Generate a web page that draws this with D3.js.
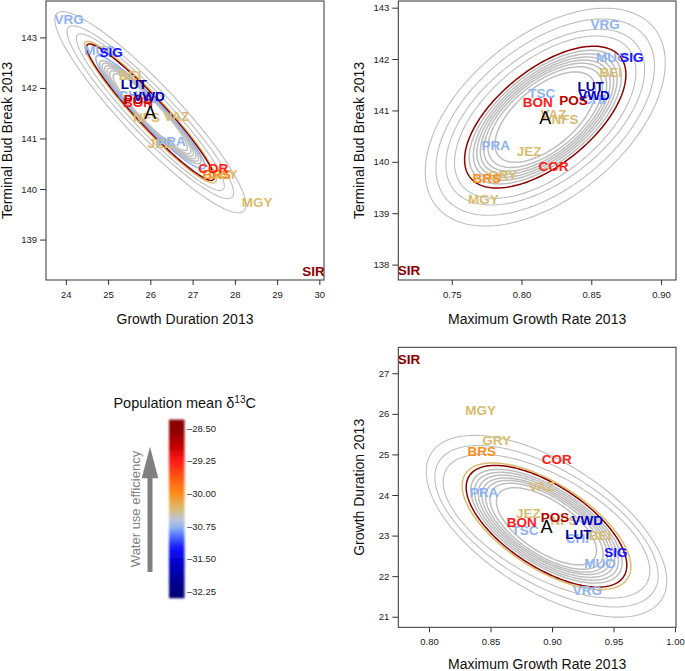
<!DOCTYPE html>
<html><head><meta charset="utf-8">
<script src="https://cdn.jsdelivr.net/npm/d3@7"></script>
<style>
body{margin:0;background:#fff}
svg{display:block;font-family:"Liberation Sans",Arial,Helvetica,sans-serif}
</style>
</head><body>
<svg id="chart" width="685" height="671"></svg>
<script>
// ---------------- DATA ----------------
const populations = ["JEZ","MUO","CHI","TSC","PRA","VRG","GRY","MGY","NFS","VAZ","BEI","BRS","COR","BON","POS","SIR","SIG","VWD","LUT"];
const d13C        = [-30.35,-30.78,-30.78,-30.78,-30.78,-30.78,-30.35,-30.35,-30.35,-30.35,-30.35,-30.0,-29.3,-29.25,-28.85,-28.5,-31.25,-31.6,-32.0];

// Panel 1: Growth Duration (x) vs Terminal Bud Break (y)
const p1GrowthDuration = [26.23,24.81,25.52,25.85,26.50,24.08,27.72,28.53,25.91,26.62,25.52,27.57,27.49,25.71,25.71,29.86,25.07,25.97,25.61];
const p1BudBreak       = [140.91,142.75,141.86,141.80,140.95,143.36,140.29,139.75,141.42,141.44,142.26,140.29,140.42,141.72,141.77,138.38,142.70,141.84,142.07];
// Panel 2: Maximum Growth Rate (x) vs Terminal Bud Break (y)
const p2MaxRate  = [0.8054,0.8647,0.8520,0.8145,0.7815,0.8599,0.7865,0.7727,0.8312,0.8229,0.8640,0.7751,0.8229,0.8116,0.8372,0.7194,0.8790,0.8520,0.8496];
const p2BudBreak = [140.21,142.04,141.22,141.33,140.33,142.68,139.75,139.27,140.83,140.93,141.75,139.68,139.91,141.17,141.20,137.89,142.04,141.29,141.48];
// Panel 3: Maximum Growth Rate (x) vs Growth Duration (y)
const p3MaxRate  = [0.8808,0.9390,0.9206,0.8780,0.8447,0.9287,0.8550,0.8420,0.9098,0.8916,0.9390,0.8428,0.9038,0.8753,0.9024,0.7837,0.9520,0.9287,0.9214];
const p3Duration = [23.56,22.32,22.93,23.13,24.07,21.66,25.36,26.08,23.38,24.22,23.00,25.09,24.88,23.33,23.45,27.35,22.60,23.38,23.04];

// Centroids ("A")
const centroidX = [26.00, 0.8170, 0.8955];
const centroidY = [141.52, 140.87, 23.23];

// Ellipses (half-range in x, half-range in y, correlation, colour)
const p1EllSX  = [2.26,1.97,1.75,1.56,1.51,1.29,1.20,1.14,1.08,1.02,0.96,0.88];
const p1EllSY  = [1.99,1.71,1.55,1.40,1.35,1.12,1.02,0.97,0.92,0.87,0.82,0.76];
const p1EllRho = [-0.92,-0.93,-0.94,-0.95,-0.955,-0.95,-0.94,-0.94,-0.935,-0.93,-0.93,-0.93];
const p1EllCol = ["gray","gray","gray","tan","darkred","lightblue","gray","gray","gray","gray","gray","gray"];

const p2EllSX  = [0.0860,0.0783,0.0712,0.0650,0.0578,0.0545,0.0515,0.0490,0.0465,0.0440,0.0410,0.0360];
const p2EllSY  = [2.12,1.91,1.71,1.58,1.38,1.30,1.23,1.17,1.11,1.05,0.98,0.88];
const p2EllRho = [0.50,0.52,0.54,0.56,0.60,0.60,0.60,0.60,0.60,0.60,0.60,0.60];
const p2EllCol = ["gray","gray","gray","gray","darkred","gray","gray","gray","gray","gray","gray","gray"];

const p3EllSX  = [0.0978,0.0908,0.0840,0.0686,0.0653,0.0615,0.0585,0.0555,0.0525,0.0495,0.0460,0.0407];
const p3EllSY  = [2.24,1.99,1.77,1.56,1.50,1.40,1.33,1.26,1.19,1.13,1.06,0.95];
const p3EllRho = [-0.60,-0.61,-0.62,-0.64,-0.64,-0.64,-0.64,-0.64,-0.64,-0.64,-0.64,-0.64];
const p3EllCol = ["gray","gray","gray","tan","darkred","gray","gray","gray","gray","gray","gray","gray"];

// Axis ticks
const p1XTicks = [24,25,26,27,28,29,30];
const p1YTicks = [139,140,141,142,143];
const p2XTicks = [0.75,0.80,0.85,0.90];
const p2YTicks = [138,139,140,141,142,143];
const p3XTicks = [0.80,0.85,0.90,0.95,1.00];
const p3YTicks = [21,22,23,24,25,26,27];

// Colour bar
const cbTicks  = [-28.50,-29.25,-30.00,-30.75,-31.50,-32.25];
const cbStopV  = [-28.30,-28.50,-28.90,-29.25,-29.60,-30.00,-30.35,-30.60,-30.78,-31.00,-31.25,-31.60,-32.00,-32.40];
const cbStopC  = ["#8B0000","#8B0000","#BE0000","#FF1A1A","#FF5510","#FF8C1A","#D8BC70","#BAC4DA","#8FB2F2","#4A66FF","#1414FF","#0000C8","#000096","#000070"];

// ---------------- DRAWING ----------------
const svg = d3.select("#chart");
const ellColors = {gray:"#BEBEBE", tan:"#D9BC6E", darkred:"#8B0000", lightblue:"#8FB2F2"};
const colorScale = d3.scaleLinear().domain(cbStopV).range(cbStopC).interpolate(d3.interpolateRgb);
const font = '"Liberation Sans",Arial,sans-serif';

const panels = [
  {box:{x0:46,x1:324,y0:1,y1:280}, xd:[23.53,30.11], yd:[138.2,143.72],
   xs:p1GrowthDuration, ys:p1BudBreak, xt:p1XTicks, yt:p1YTicks, xf:d3.format("d"), yf:d3.format("d"),
   esx:p1EllSX, esy:p1EllSY, erho:p1EllRho, ecol:p1EllCol,
   xlab:"Growth Duration 2013", ylab:"Terminal Bud Break 2013", xlabY:324, ylabX:12},
  {box:{x0:398.3,x1:676,y0:1,y1:280}, xd:[0.7117,0.9107], yd:[137.7,143.13],
   xs:p2MaxRate, ys:p2BudBreak, xt:p2XTicks, yt:p2YTicks, xf:d3.format(".2f"), yf:d3.format("d"),
   esx:p2EllSX, esy:p2EllSY, erho:p2EllRho, ecol:p2EllCol,
   xlab:"Maximum Growth Rate 2013", ylab:"Terminal Bud Break 2013", xlabY:324, ylabX:364},
  {box:{x0:398.3,x1:676,y0:347.3,y1:627.3}, xd:[0.775,1.0008], yd:[20.74,27.64],
   xs:p3MaxRate, ys:p3Duration, xt:p3XTicks, yt:p3YTicks, xf:d3.format(".2f"), yf:d3.format("d"),
   esx:p3EllSX, esy:p3EllSY, erho:p3EllRho, ecol:p3EllCol,
   xlab:"Maximum Growth Rate 2013", ylab:"Growth Duration 2013", xlabY:669, ylabX:364}
];

const defs = svg.append("defs");

panels.forEach((p, pi) => {
  const b = p.box;
  const x = d3.scaleLinear().domain(p.xd).range([b.x0, b.x1]);
  const y = d3.scaleLinear().domain(p.yd).range([b.y1, b.y0]);
  const clipId = "clip" + pi;
  defs.append("clipPath").attr("id", clipId).append("rect")
    .attr("x", b.x0).attr("y", b.y0).attr("width", b.x1 - b.x0).attr("height", b.y1 - b.y0);

  const g = svg.append("g");
  const inner = g.append("g").attr("clip-path", `url(#${clipId})`);

  // ellipses
  const ts = d3.range(0, 241).map(i => i / 240 * 2 * Math.PI);
  const cx = centroidX[pi], cy = centroidY[pi];
  const line = d3.line().curve(d3.curveLinearClosed);
  const order = d3.range(p.esx.length).sort((a, c) => (p.ecol[a] === "gray" ? 0 : 1) - (p.ecol[c] === "gray" ? 0 : 1));
  order.forEach(i => {
    const sx = p.esx[i], sy = p.esy[i], r = p.erho[i], q = Math.sqrt(1 - r * r);
    const pts = ts.map(t => [x(cx + sx * Math.cos(t)), y(cy + sy * (r * Math.cos(t) + q * Math.sin(t)))]);
    const isInner = i > 4 && p.ecol[i] === "gray";
    inner.append("path").attr("d", line(pts)).attr("fill", "none")
      .attr("stroke", ellColors[p.ecol[i]])
      .attr("stroke-width", p.ecol[i] === "gray" ? (isInner ? 1.5 : 1.1) : 1.5);
  });

  // labels
  inner.selectAll("text.pop").data(populations).join("text")
    .attr("class", "pop")
    .attr("x", (d, i) => x(p.xs[i])).attr("y", (d, i) => y(p.ys[i]))
    .attr("dy", "0.36em").attr("text-anchor", "middle")
    .attr("font-weight", "bold").attr("font-size", 13.5).attr("font-family", font)
    .attr("fill", (d, i) => colorScale(d13C[i]))
    .text(d => d);

  inner.append("text").attr("x", x(cx)).attr("y", y(cy)).attr("dy", "0.36em")
    .attr("text-anchor", "middle").attr("font-size", 18).attr("fill", "#000").text("A");

  // frame
  g.append("rect").attr("x", b.x0).attr("y", b.y0).attr("width", b.x1 - b.x0).attr("height", b.y1 - b.y0)
    .attr("fill", "none").attr("stroke", "#333").attr("stroke-width", 1);

  // axes
  const ax = g.append("g").attr("transform", `translate(0,${b.y1})`)
    .call(d3.axisBottom(x).tickValues(p.xt).tickFormat(p.xf).tickSize(5).tickPadding(6));
  const ay = g.append("g").attr("transform", `translate(${b.x0},0)`)
    .call(d3.axisLeft(y).tickValues(p.yt).tickFormat(p.yf).tickSize(6).tickPadding(3));
  [ax, ay].forEach(a => {
    a.select(".domain").remove();
    a.selectAll(".tick line").attr("stroke", "#333");
    a.selectAll(".tick text").attr("fill", "#222").attr("font-size", 9.5).attr("font-family", font);
  });

  g.append("text").attr("x", (b.x0 + b.x1) / 2).attr("y", p.xlabY).attr("text-anchor", "middle")
    .attr("font-size", 14).attr("fill", "#111").text(p.xlab);
  g.append("text").attr("transform", `translate(${p.ylabX},${(b.y0 + b.y1) / 2}) rotate(-90)`)
    .attr("text-anchor", "middle").attr("font-size", 14).attr("fill", "#111").text(p.ylab);
});

// ---------------- LEGEND ----------------
const cbY = d3.scaleLinear().domain([-28.5, -32.25]).range([428.3, 591.7]);
const grad = defs.append("linearGradient").attr("id", "cbgrad")
  .attr("gradientUnits", "userSpaceOnUse").attr("x1", 0).attr("x2", 0)
  .attr("y1", cbY(-28.30)).attr("y2", cbY(-32.40));
cbStopV.forEach((v, i) => grad.append("stop")
  .attr("offset", (cbY(v) - cbY(-28.30)) / (cbY(-32.40) - cbY(-28.30)))
  .attr("stop-color", cbStopC[i]));
const blur = defs.append("filter").attr("id", "cbblur").attr("x", "-50%").attr("y", "-10%").attr("width", "200%").attr("height", "120%");
blur.append("feGaussianBlur").attr("stdDeviation", 1.3);

svg.append("rect").attr("x", 169).attr("width", 15.5)
  .attr("y", cbY(-28.30)).attr("height", cbY(-32.40) - cbY(-28.30))
  .attr("fill", "url(#cbgrad)").attr("filter", "url(#cbblur)");

svg.selectAll("text.cb").data(cbTicks).join("text").attr("class", "cb")
  .attr("x", 187).attr("y", d => cbY(d)).attr("dy", "0.35em")
  .attr("font-size", 9.5).attr("fill", "#222")
  .text(d => "\u2013" + d3.format(".2f")(Math.abs(d)));

const title = svg.append("text").attr("x", 184.7).attr("y", 408.3).attr("text-anchor", "middle")
  .attr("font-size", 14.5).attr("fill", "#111");
title.append("tspan").text("Population mean \u03B4");
title.append("tspan").attr("font-size", 10).attr("dy", -5).text("13");
title.append("tspan").attr("dy", 5).text("C");

// arrow
svg.append("rect").attr("x", 147.5).attr("y", 474).attr("width", 5).attr("height", 98).attr("fill", "#808080");
svg.append("path").attr("d", "M150,446.7 L158.3,478.3 L141.7,478.3 Z").attr("fill", "#808080");
svg.append("text").attr("transform", "translate(140,509) rotate(-90)").attr("text-anchor", "middle")
  .attr("font-size", 13).attr("fill", "#808080").text("Water use efficiency");
</script>
</body></html>
